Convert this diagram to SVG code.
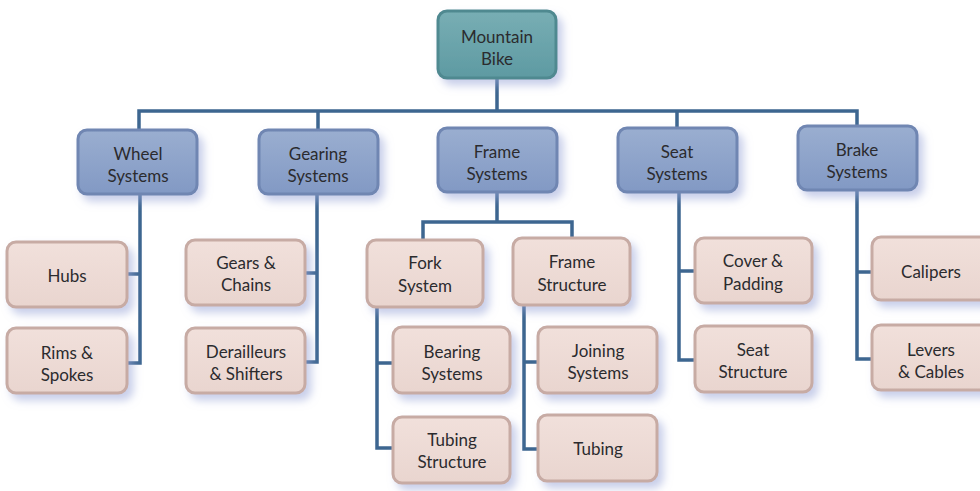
<svg xmlns="http://www.w3.org/2000/svg" width="980" height="491" viewBox="0 0 980 491">
<defs>
<filter id="sh" x="-20%" y="-20%" width="150%" height="160%">
<feDropShadow dx="5" dy="6" stdDeviation="4" flood-color="#9aa6d8" flood-opacity="0.55"/>
</filter>
<linearGradient id="gTeal" x1="0" y1="0" x2="0" y2="1">
<stop offset="0" stop-color="#78aeb4"/><stop offset="1" stop-color="#5e9aa2"/>
</linearGradient>
<linearGradient id="gBlue" x1="0" y1="0" x2="0" y2="1">
<stop offset="0" stop-color="#9aaed0"/><stop offset="1" stop-color="#8299c4"/>
</linearGradient>
<linearGradient id="gPink" x1="0" y1="0" x2="0" y2="1">
<stop offset="0" stop-color="#f1e0db"/><stop offset="1" stop-color="#e9d5cf"/>
</linearGradient>
</defs>
<style>
.teal{fill:url(#gTeal);stroke:#4f8990;stroke-width:3;filter:url(#sh)}
.blue{fill:url(#gBlue);stroke:#6f86b2;stroke-width:3;filter:url(#sh)}
.pink{fill:url(#gPink);stroke:#c7aba4;stroke-width:3;filter:url(#sh)}
text{font-family:"Lato","Open Sans",sans-serif;font-size:17px;fill:#2b2b2e;text-anchor:middle;dominant-baseline:central}
.conn{fill:none;stroke:#3d6690;stroke-width:3.5;stroke-linejoin:miter}
</style>
<rect width="980" height="491" fill="#ffffff"/>
<g id="connectors">
<path class="conn" d="M497 78V111M139 129V111H857V127M318 129V111M677 127V111"/>
<path class="conn" d="M140 194V363H127M140 274H127"/>
<path class="conn" d="M317 194V362H305M317 273H305"/>
<path class="conn" d="M497 192V222M423 240V222H572V238"/>
<path class="conn" d="M377 307V448H393M377 363H393"/>
<path class="conn" d="M524 305V449H538M524 362H538"/>
<path class="conn" d="M679 192V360H695M679 271H695"/>
<path class="conn" d="M857 190V359H872M857 272H872"/>
</g>
<g id="n-mountain"><rect class="teal" x="438" y="11" width="118" height="67" rx="9"/><text x="497" y="36">Mountain</text><text x="497" y="58">Bike</text></g>
<g id="n-wheel"><rect class="blue" x="78" y="130" width="119" height="64" rx="9"/><text x="138" y="153">Wheel</text><text x="138" y="175">Systems</text></g>
<g id="n-gearing"><rect class="blue" x="259" y="130" width="119" height="64" rx="9"/><text x="318" y="153">Gearing</text><text x="318" y="175">Systems</text></g>
<g id="n-frame"><rect class="blue" x="438" y="128" width="119" height="64" rx="9"/><text x="497" y="151">Frame</text><text x="497" y="173">Systems</text></g>
<g id="n-seat"><rect class="blue" x="618" y="128" width="119" height="64" rx="9"/><text x="677" y="151">Seat</text><text x="677" y="173">Systems</text></g>
<g id="n-brake"><rect class="blue" x="798" y="126" width="119" height="64" rx="9"/><text x="857" y="149">Brake</text><text x="857" y="171">Systems</text></g>
<g id="n-hubs"><rect class="pink" x="7" y="242" width="120" height="65" rx="9"/><text x="67" y="275">Hubs</text></g>
<g id="n-rims"><rect class="pink" x="7" y="328" width="120" height="65" rx="9"/><text x="67" y="352">Rims &amp;</text><text x="67" y="374">Spokes</text></g>
<g id="n-gears"><rect class="pink" x="186" y="240" width="119" height="65" rx="9"/><text x="246" y="262">Gears &amp;</text><text x="246" y="284">Chains</text></g>
<g id="n-derailleurs"><rect class="pink" x="186" y="328" width="119" height="65" rx="9"/><text x="246" y="351">Derailleurs</text><text x="246" y="373">&amp; Shifters</text></g>
<g id="n-fork"><rect class="pink" x="367" y="240" width="116" height="67" rx="9"/><text x="425" y="262">Fork</text><text x="425" y="285">System</text></g>
<g id="n-framestructure"><rect class="pink" x="513" y="238" width="117" height="67" rx="9"/><text x="572" y="261">Frame</text><text x="572" y="284">Structure</text></g>
<g id="n-bearing"><rect class="pink" x="393" y="327" width="117" height="66" rx="9"/><text x="452" y="351">Bearing</text><text x="452" y="373">Systems</text></g>
<g id="n-tubingstructure"><rect class="pink" x="393" y="417" width="117" height="66" rx="9"/><text x="452" y="439">Tubing</text><text x="452" y="461">Structure</text></g>
<g id="n-joining"><rect class="pink" x="538" y="327" width="119" height="66" rx="9"/><text x="598" y="350">Joining</text><text x="598" y="372">Systems</text></g>
<g id="n-tubing"><rect class="pink" x="538" y="415" width="119" height="66" rx="9"/><text x="598" y="448">Tubing</text></g>
<g id="n-cover"><rect class="pink" x="695" y="238" width="117" height="65" rx="9"/><text x="753" y="260">Cover &amp;</text><text x="753" y="283">Padding</text></g>
<g id="n-seatstructure"><rect class="pink" x="695" y="326" width="117" height="66" rx="9"/><text x="753" y="349">Seat</text><text x="753" y="371">Structure</text></g>
<g id="n-calipers"><rect class="pink" x="872" y="237" width="118" height="63" rx="9"/><text x="931" y="271">Calipers</text></g>
<g id="n-levers"><rect class="pink" x="872" y="325" width="118" height="65" rx="9"/><text x="931" y="349">Levers</text><text x="931" y="371">&amp; Cables</text></g>
</svg>
